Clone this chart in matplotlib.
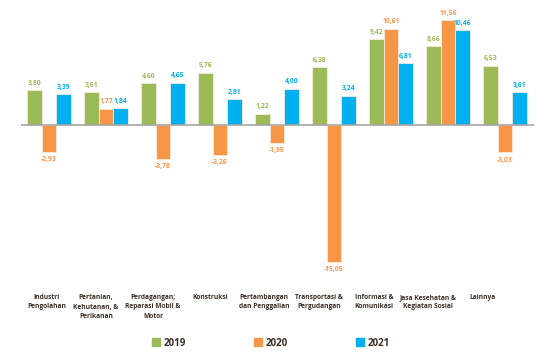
import numpy as np
import matplotlib.pyplot as plt
from matplotlib.patches import Patch

plt.rcParams['font.family'] = ['Open Sans', 'DejaVu Sans']

kategori = ['Industri\nPengolahan', 'Pertanian,\nKehutanan, &\nPerikanan',
            'Perdagangan;\nReparasi Mobil &\nMotor', 'Konstruksi',
            'Pertambangan\ndan Penggalian', 'Transportasi &\nPergudangan',
            'Informasi &\nKomunikasi', 'Jasa Kesehatan &\nKegiatan Sosial', 'Lainnya']
th2019 = [3.80, 3.61, 4.60, 5.76, 1.22, 6.38, 9.42, 8.66, 6.53]
th2020 = [-2.93, 1.77, -3.78, -3.26, -1.95, -15.05, 10.61, 11.56, -3.03]
th2021 = [3.39, 1.84, 4.65, 2.81, 4.00, 3.24, 6.81, 10.46, 3.61]
tahun = ['2019', '2020', '2021']
warna = ['#9BBB59', '#F79646', '#00B0F0']

fig = plt.figure(figsize=(5.47, 3.53), dpi=100)
ax = fig.add_axes([20.5/547, 1-265.7/353, 513/547, 254.2/353])

x = np.arange(len(kategori))
w = 0.258
for i, (vals, c) in enumerate(zip([th2019, th2020, th2021], warna)):
    pos = x + (i-1)*w
    ax.bar(pos, vals, w, color=c, edgecolor='#fbe9dc', linewidth=0.6, zorder=2)
    for p, v in zip(pos, vals):
        txt = ('%.2f' % v).replace('.', ',')
        off = 2.5 if v >= 0 else -3
        ax.annotate(txt, (p, v), xytext=(0, off), textcoords='offset points',
                    ha='center', va='bottom' if v >= 0 else 'top',
                    fontsize=4.9, fontweight='bold', color=c)

ax.axhline(0, color='#a6a6a6', lw=1.2, zorder=3)
ax.set_xlim(-0.5, 8.5)
ax.set_ylim(-15.5, 12.5)
ax.set_xticks([])
ax.set_yticks([])
for s in ax.spines.values():
    s.set_visible(False)

# label kategori sedikit bergeser ke kiri dari pusat kelompok batang
label_px = [47, 96, 153, 210, 264, 319, 374, 428, 482]
for px, lab in zip(label_px, kategori):
    fig.text(px/547, 1-294/353, lab, ha='center', va='top',
             fontsize=4.8, fontweight='bold', color='#3b2e25', linespacing=1.5)

handles = [Patch(color=c, label=t) for c, t in zip(warna, tahun)]
fig.legend(handles=handles, loc='center', bbox_to_anchor=(0.495, 1-343/353),
           ncol=3, frameon=False, handlelength=0.8, handleheight=0.8,
           handletextpad=0.4, columnspacing=7.0,
           prop={'size': 7, 'weight': 'bold'}, labelcolor='#3b2e25')

fig.savefig('out.png', dpi=100)
